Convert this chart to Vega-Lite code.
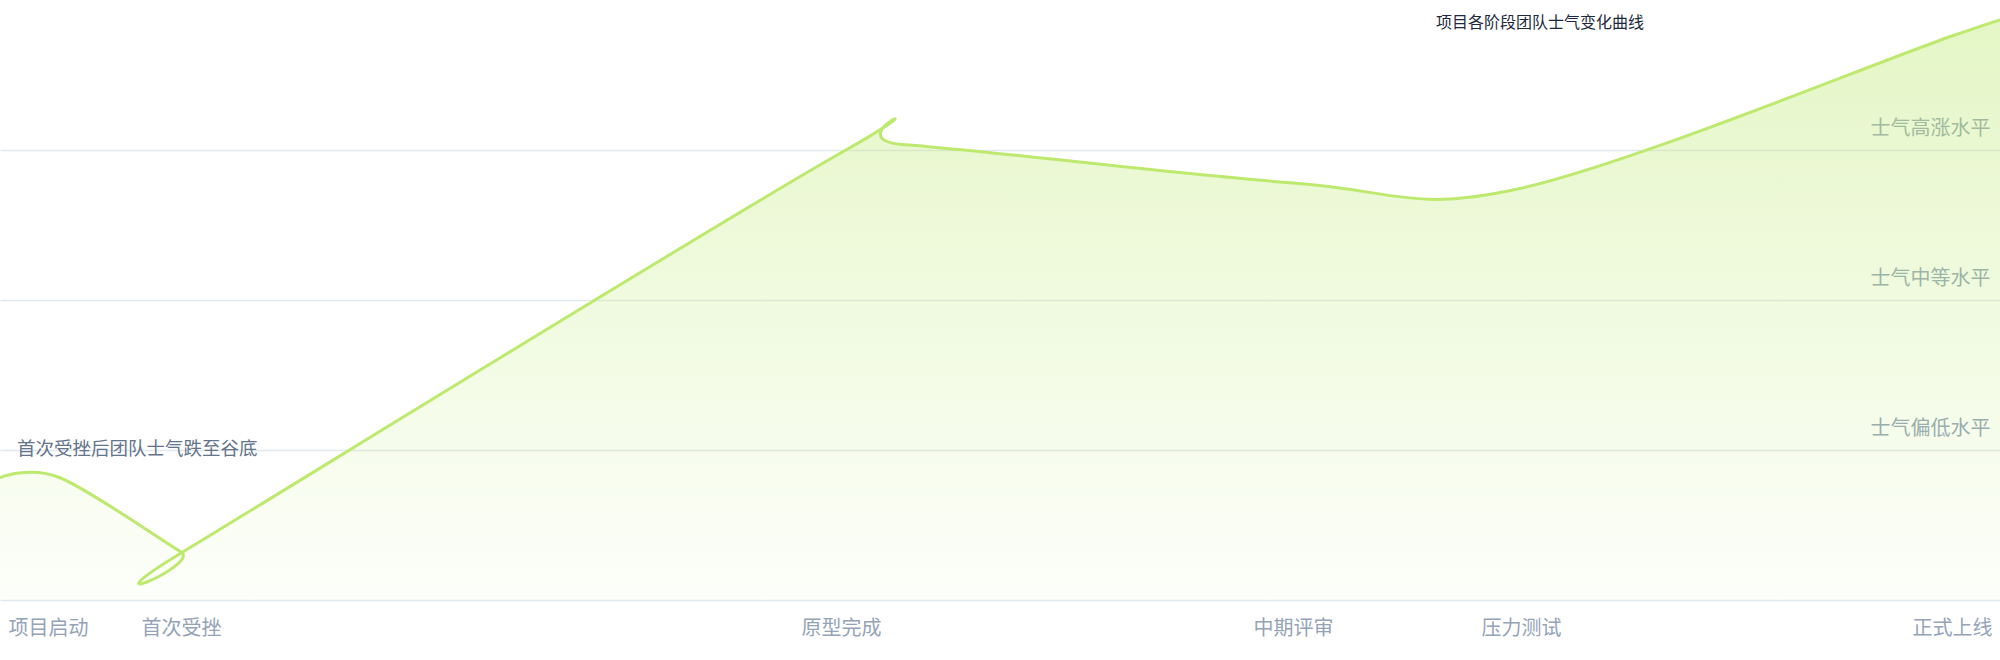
{
  "$schema": "https://vega.github.io/schema/vega-lite/v6.json",
  "width": 2000,
  "height": 600,
  "autosize": {"type": "pad"},
  "padding": {"left": 0, "top": 0, "right": 0, "bottom": 20},
  "background": "white",
  "config": {"view": {"stroke": null}, "font": "Noto Sans CJK SC"},
  "title": {
    "text": "项目各阶段团队士气变化曲线",
    "anchor": "middle",
    "dx": 540,
    "offset": -31,
    "fontSize": 16,
    "fontWeight": "normal",
    "color": "#1e293b"
  },
  "data": {
    "values": [
      {"t": 0, "v": 16.3},
      {"t": 3.0, "v": 16.3},
      {"t": 9.05, "v": 6.4},
      {"t": 9.2, "v": 6.5},
      {"t": 42.1, "v": 59.7},
      {"t": 45.25, "v": 60.7},
      {"t": 64.65, "v": 55.6},
      {"t": 76.05, "v": 54.9},
      {"t": 97.6, "v": 75.2},
      {"t": 100, "v": 77.1}
    ]
  },
  "layer": [
    {
      "mark": {
        "type": "area",
        "interpolate": "cardinal",
        "clip": true,
        "color": {
          "gradient": "linear",
          "x1": 0, "x2": 0, "y1": 0, "y2": 1,
          "stops": [
            {"offset": 0, "color": "rgba(188,233,111,0.4)"},
            {"offset": 1, "color": "rgba(188,233,111,0.03)"}
          ]
        }
      },
      "encoding": {
        "x": {
          "field": "t",
          "type": "quantitative",
          "scale": {"domain": [0, 100], "nice": false, "zero": false},
          "axis": {
            "title": null,
            "values": [2.4, 9.05, 42.05, 64.65, 76.05, 97.6],
            "labelExpr": "datum.value == 2.4 ? '项目启动' : datum.value == 9.05 ? '首次受挫' : datum.value == 42.05 ? '原型完成' : datum.value == 64.65 ? '中期评审' : datum.value == 76.05 ? '压力测试' : '正式上线'",
            "grid": false,
            "ticks": false,
            "domain": false,
            "labelColor": "#94a3b8",
            "labelFontSize": 20,
            "labelPadding": 18,
            "labelOverlap": false,
            "labelFlush": false,
            "labelBound": false
          }
        },
        "y": {
          "field": "v",
          "type": "quantitative",
          "scale": {"domain": [0, 80], "nice": false},
          "axis": {
            "title": null,
            "orient": "right",
            "values": [0, 20, 40, 60],
            "labelExpr": "datum.value == 20 ? '士气偏低水平' : datum.value == 40 ? '士气中等水平' : datum.value == 60 ? '士气高涨水平' : ''",
            "grid": true,
            "gridColor": "#e2e8f0",
            "gridWidth": 1.5,
            "domain": false,
            "ticks": false,
            "labelAlign": "right",
            "labelBaseline": "middle",
            "labelPadding": -10,
            "labelOffset": -22,
            "labelColor": "#94a3b8",
            "labelFontSize": 20
          }
        }
      }
    },
    {
      "mark": {"type": "line", "interpolate": "cardinal", "clip": true, "color": "#bde96f", "strokeWidth": 3},
      "encoding": {
        "x": {"field": "t", "type": "quantitative"},
        "y": {"field": "v", "type": "quantitative"}
      }
    },
    {
      "data": {"values": [{"t": 0.85, "v": 20.2, "note": "首次受挫后团队士气跌至谷底"}]},
      "mark": {"type": "text", "align": "left", "baseline": "middle", "fontSize": 18.5, "color": "#64748b"},
      "encoding": {
        "x": {"field": "t", "type": "quantitative"},
        "y": {"field": "v", "type": "quantitative"},
        "text": {"field": "note"}
      }
    }
  ]
}
